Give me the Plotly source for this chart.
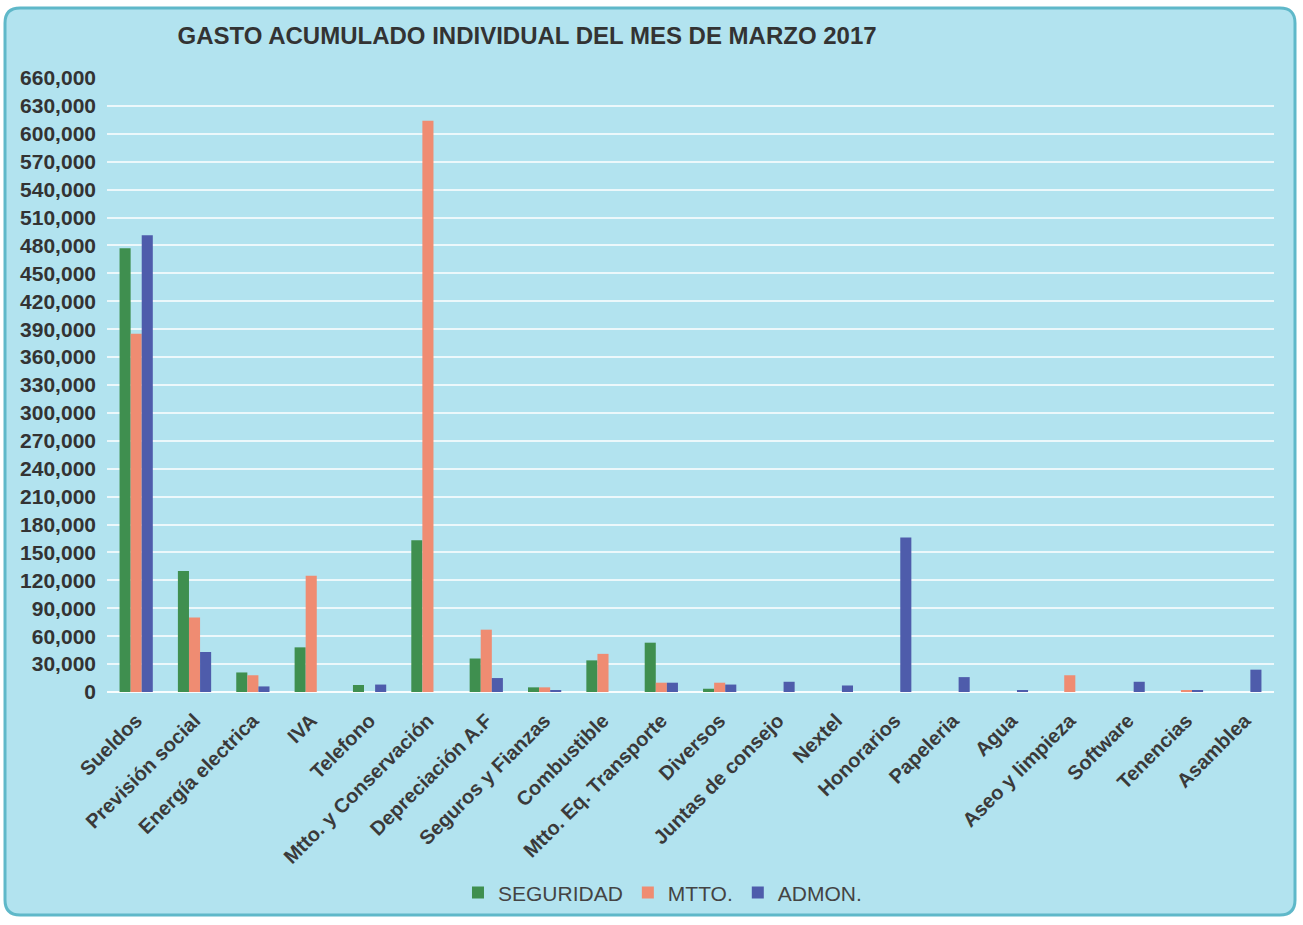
import plotly.graph_objects as go

categories = ["Sueldos", "Previsión social", "Energía electrica", "IVA", "Telefono",
              "Mtto. y Conservación", "Depreciación A.F", "Seguros y Fianzas", "Combustible",
              "Mtto. Eq. Transporte", "Diversos", "Juntas de consejo", "Nextel", "Honorarios",
              "Papeleria", "Agua", "Aseo y limpieza", "Software", "Tenencias", "Asamblea"]

seguridad = [477000, 130000, 21000, 48000, 7500, 163000, 36000, 5000, 34000, 53000,
             3500, 0, 0, 0, 0, 0, 0, 0, 0, 0]
mtto = [385000, 80000, 18000, 125000, 0, 614000, 67000, 5000, 41000, 10000,
        10000, 0, 0, 0, 0, 0, 18000, 0, 2000, 0]
admon = [491000, 43000, 6000, 0, 8000, 0, 15000, 2000, 0, 10000,
         8000, 11000, 7000, 166000, 16000, 2000, 0, 11000, 1500, 24000]

tick_vals = list(range(0, 660001, 30000))
tick_text = [f"{v:,}" for v in tick_vals]

series = [("SEGURIDAD", seguridad, "#3f8f4f"),
          ("MTTO.", mtto, "#ef8c72"),
          ("ADMON.", admon, "#4e5cab")]

fig = go.Figure()
for name, vals, col in series:
    fig.add_trace(go.Bar(x=categories, y=vals, name=name, marker=dict(color=col, line=dict(width=0))))

# rounded frame (paper coordinates)
x0, x1, y0, y1 = -0.0874, 1.018, -0.363, 1.114
rx, ry = 0.0129, 0.0244
frame_path = (f"M {x0+rx},{y0} L {x1-rx},{y0} Q {x1},{y0} {x1},{y0+ry} "
              f"L {x1},{y1-ry} Q {x1},{y1} {x1-rx},{y1} "
              f"L {x0+rx},{y1} Q {x0},{y1} {x0},{y1-ry} "
              f"L {x0},{y0+ry} Q {x0},{y0} {x0+rx},{y0} Z")

fig.update_layout(
    width=1303, height=925,
    paper_bgcolor="white",
    plot_bgcolor="rgba(0,0,0,0)",
    margin=dict(l=107, r=29, t=78, b=233),
    barmode="group", bargap=0.43, bargroupgap=0,
    font=dict(family="Liberation Sans, Arial, sans-serif", color="#3a3a3a"),
    title=dict(text="<b>GASTO ACUMULADO INDIVIDUAL DEL MES DE MARZO 2017</b>",
               x=0.4045, xanchor="center", y=0.962, yanchor="middle",
               font=dict(size=24, color="#333333")),
    legend=dict(orientation="h", x=0.476, xanchor="center", y=-0.327, yanchor="middle",
                font=dict(size=21, color="#444444"), itemwidth=30,
                bgcolor="rgba(0,0,0,0)", traceorder="normal"),
    shapes=[dict(type="path", xref="paper", yref="paper", path=frame_path,
                 fillcolor="#b2e3ef", line=dict(color="#5fb8c9", width=3),
                 layer="below")],
)
fig.update_yaxes(range=[0, 660000], tickvals=tick_vals, ticktext=[f"<b>{t}</b>" for t in tick_text],
                 showgrid=True, gridcolor="rgba(255,255,255,0.75)", gridwidth=1.5,
                 zeroline=True, zerolinecolor="rgba(255,255,255,0.9)", zerolinewidth=1.5,
                 tickfont=dict(size=21, color="#333333"), ticks="", showline=False,
                 ticklabelstandoff=10)
fig.update_xaxes(tickangle=-45, tickfont=dict(size=20, color="#3a3a3a"),
                 tickvals=categories, ticktext=[f"<b>{c}</b>" for c in categories],
                 showline=False, ticks="", ticklabelstandoff=12)

fig.write_html("out.html", config={"displayModeBar": False},
               post_script="document.body.style.margin='0px';")
